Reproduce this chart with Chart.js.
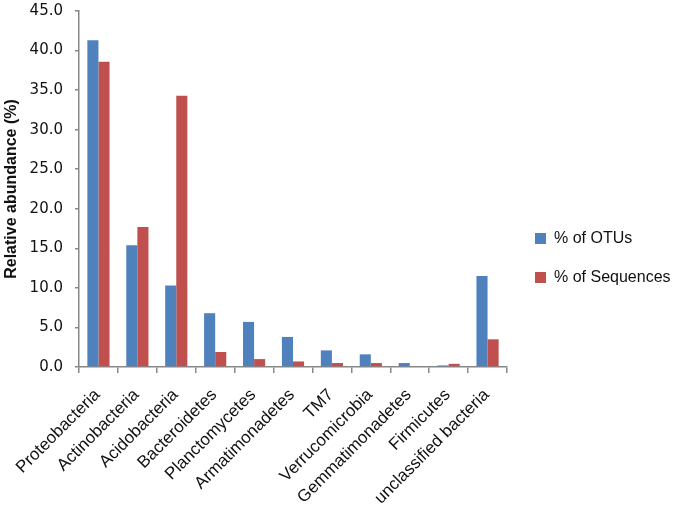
<!DOCTYPE html>
<html>
<head>
<meta charset="utf-8">
<script src="https://cdn.jsdelivr.net/npm/chart.js@4"></script>
<style>
  html, body { margin: 0; padding: 0; background: #fff; }
  #wrap { width: 675px; height: 505px; }
</style>
</head>
<body>
<div id="wrap"><canvas id="chart" width="675" height="505"></canvas></div>
<script>
const categories = ['Proteobacteria', 'Actinobacteria', 'Acidobacteria', 'Bacteroidetes', 'Planctomycetes',
  'Armatimonadetes', 'TM7', 'Verrucomicrobia', 'Gemmatimonadetes', 'Firmicutes', 'unclassified bacteria']
const otus = [41.3, 15.4, 10.3, 6.8, 5.7, 3.8, 2.1, 1.6, 0.5, 0.2, 11.5]
const sequences = [38.6, 17.7, 34.3, 1.9, 1.0, 0.7, 0.5, 0.5, 0.1, 0.4, 3.5]
const yTicks = [0, 5, 10, 15, 20, 25, 30, 35, 40, 45]

const axisColor = '#888888'

// legend sits a bit away from the plot, Excel style
const legendGap = {
  id: 'legendGap',
  beforeUpdate (chart) {
    const legend = chart.legend
    if (legend && !legend._wrapped) {
      const fit = legend.fit
      legend.fit = function () {
        fit.call(this)
        this.width = 168
      }
      legend._wrapped = true
    }
  },
  afterLayout (chart) {
    if (chart.legend) chart.legend.left += 5
  }
}

const ctx = document.getElementById('chart').getContext('2d')
new Chart(ctx, {
  type: 'bar',
  data: {
    labels: categories,
    datasets: [
      {
        label: '% of OTUs',
        data: otus,
        backgroundColor: '#4F81BD',
        categoryPercentage: 0.57,
        barPercentage: 1.0
      },
      {
        label: '% of Sequences',
        data: sequences,
        backgroundColor: '#C0504D',
        categoryPercentage: 0.57,
        barPercentage: 1.0
      }
    ]
  },
  options: {
    responsive: false,
    animation: false,
    layout: { padding: { left: 2, top: 11, right: 0, bottom: 0 } },
    plugins: {
      tooltip: { enabled: false },
      legend: {
        position: 'right',
        labels: {
          boxWidth: 11,
          boxHeight: 11,
          padding: 23,
          color: '#111',
          font: { family: 'Liberation Sans', size: 16 }
        }
      }
    },
    scales: {
      x: {
        border: { color: axisColor, width: 1.5 },
        grid: { display: true, drawOnChartArea: false, drawTicks: true, tickLength: 6, color: axisColor, lineWidth: 1.5 },
        afterFit: (scale) => {
          scale.height = 138
          scale.paddingLeft = 0
          scale.paddingRight = 0
        },
        ticks: {
          autoSkip: false,
          minRotation: 45,
          maxRotation: 45,
          labelOffset: -1,
          padding: 12,
          color: '#111',
          font: { family: 'Liberation Sans', size: 17 }
        }
      },
      y: {
        min: 0,
        max: 45,
        afterBuildTicks: (scale) => { scale.ticks = yTicks.map(v => ({ value: v })) },
        afterFit: (scale) => {
          scale.width = 77
          scale.paddingTop = 0
          scale.paddingBottom = 0
        },
        border: { color: axisColor, width: 1.5 },
        grid: { display: true, drawOnChartArea: false, drawTicks: true, tickLength: 4, color: axisColor, lineWidth: 1.5 },
        title: {
          display: true,
          text: 'Relative abundance (%)',
          color: '#111',
          font: { family: 'Liberation Sans', size: 16, weight: 'bold' },
          padding: { top: 0, bottom: 4 }
        },
        ticks: {
          padding: 12,
          color: '#111',
          font: { family: 'DejaVu Sans', size: 15 },
          callback: (v) => Number(v).toFixed(1)
        }
      }
    }
  },
  plugins: [legendGap]
})
</script>
</body>
</html>
